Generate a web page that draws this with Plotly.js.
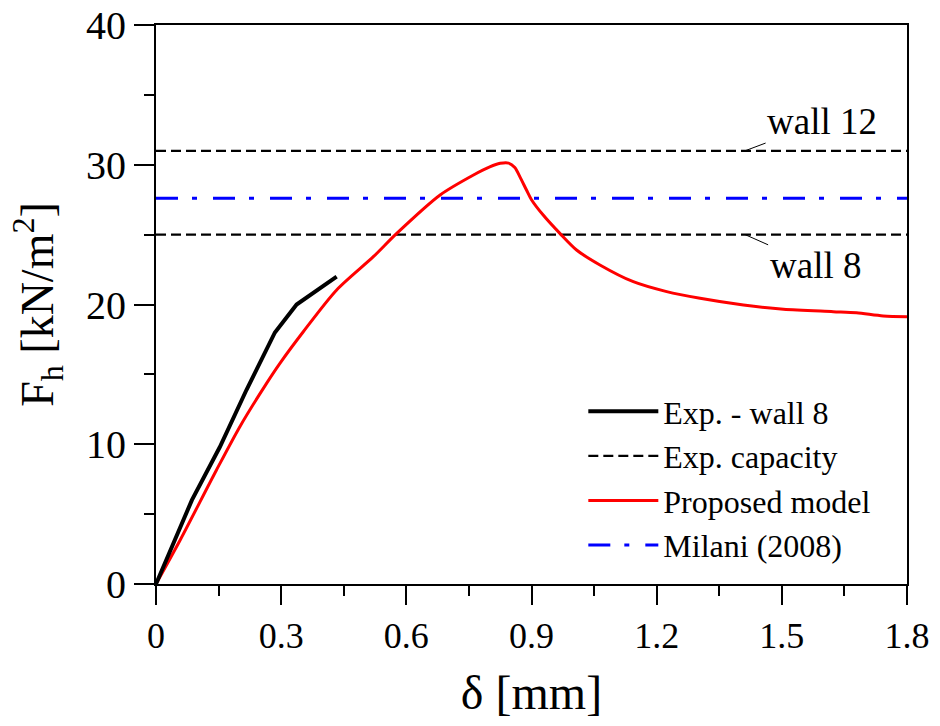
<!DOCTYPE html>
<html>
<head>
<meta charset="utf-8">
<script src="https://cdn.plot.ly/plotly-3.0.1.min.js"></script>
<style>html,body{margin:0;padding:0;background:#fff;}#chart{width:940px;height:726px;}</style>
</head>
<body>
<div id="chart"></div>
<script>
// Experimental curve - wall 8
const expX = [0, 0.041, 0.086, 0.153, 0.217, 0.285, 0.337, 0.433];
const expY = [0, 2.9, 6.0, 9.8, 13.9, 18.0, 20.0, 22.0];

// Proposed model
const modelX = [0, 0.058, 0.145, 0.201, 0.265, 0.297, 0.353, 0.433, 0.521, 0.577, 0.681, 0.761, 0.80, 0.825, 0.845, 0.86, 0.872, 0.888, 0.90, 0.928, 0.968, 1.008, 1.064, 1.144, 1.224, 1.304, 1.408, 1.504, 1.623, 1.679, 1.743, 1.80];
const modelY = [0, 3.15, 8.16, 11.26, 14.36, 15.79, 18.05, 21.04, 23.42, 25.09, 27.84, 29.27, 29.85, 30.1, 30.12, 29.8, 29.15, 28.19, 27.5, 26.40, 25.09, 23.90, 22.83, 21.63, 20.92, 20.44, 19.96, 19.66, 19.49, 19.41, 19.18, 19.13];

// Experimental capacities (wall 12, wall 8)
const capLabels = ["wall 12", "wall 8"];
const capValues = [31, 25];
// Milani (2008)
const milaniValue = 27.6;

const xRange = [0, 1.8];
const xTicks = [0, 0.3, 0.6, 0.9, 1.2, 1.5, 1.8];
const yTicks = [0, 10, 20, 30, 40];

const serif = "Liberation Serif";

const capX = [], capY = [];
capValues.forEach((v, i) => {
  if (i > 0) { capX.push(null); capY.push(null); }
  capX.push(xRange[0], xRange[1]);
  capY.push(v, v);
});

const traces = [
  {x: capX, y: capY, mode: 'lines', name: 'Exp. capacity', legendrank: 2,
   line: {color: 'black', width: 2.2, dash: '10px,5px'}},
  {x: xRange, y: [milaniValue, milaniValue], mode: 'lines', name: 'Milani (2008)', legendrank: 4,
   line: {color: '#0000ff', width: 3, dash: '22px,14px,5px,16px'}},
  {x: modelX, y: modelY, mode: 'lines', name: 'Proposed model', legendrank: 3,
   line: {color: '#ff0000', width: 3, shape: 'spline', smoothing: 0.8}},
  {x: expX, y: expY, mode: 'lines', name: 'Exp. - wall 8', legendrank: 1,
   line: {color: 'black', width: 4}}
];

const annX = 1.412;
const annotations = [
  {x: annX, y: capValues[0], xref: 'x', yref: 'y', text: capLabels[0], showarrow: true,
   arrowhead: 0, arrowwidth: 1, arrowcolor: 'black', ax: 77, ay: -29,
   font: {family: serif, size: 37, color: 'black'}},
  {x: annX, y: capValues[1], xref: 'x', yref: 'y', text: capLabels[1], showarrow: true,
   arrowhead: 0, arrowwidth: 1, arrowcolor: 'black', ax: 70, ay: 31,
   font: {family: serif, size: 37, color: 'black'}}
];

const layout = {
  width: 940, height: 726,
  margin: {l: 156, r: 33, t: 25, b: 142},
  paper_bgcolor: 'white', plot_bgcolor: 'white',
  showlegend: true,
  legend: {x: 0.569, y: 0.358, xanchor: 'left', yanchor: 'top', bgcolor: 'rgba(0,0,0,0)',
    font: {family: serif, size: 32, color: 'black'}, itemwidth: 70, tracegroupgap: 0},
  font: {family: serif, color: 'black'},
  xaxis: {
    range: xRange, tickvals: xTicks, ticktext: xTicks.map(String),
    showgrid: false, zeroline: false, showline: true, linecolor: 'black', linewidth: 2,
    mirror: true, ticks: 'outside', ticklen: 19, tickwidth: 2, tickcolor: 'black',
    tickfont: {family: serif, size: 36, color: 'black'},
    minor: {dtick: 0.15, tick0: 0, ticks: 'outside', ticklen: 10, tickwidth: 2, tickcolor: 'black', showgrid: false},
    title: {text: 'δ [mm]', font: {family: serif, size: 48, color: 'black'}, standoff: 20}
  },
  yaxis: {
    range: [0, 40], tickvals: yTicks, ticktext: yTicks.map(String),
    showgrid: false, zeroline: false, showline: true, linecolor: 'black', linewidth: 2,
    mirror: true, ticks: 'outside', ticklen: 20, tickwidth: 2, tickcolor: 'black',
    tickfont: {family: serif, size: 40, color: 'black'},
    minor: {dtick: 5, tick0: 0, ticks: 'outside', ticklen: 10, tickwidth: 2, tickcolor: 'black', showgrid: false},
    title: {text: 'F<sub>h</sub> [kN/m<sup>2</sup>]', font: {family: serif, size: 46, color: 'black'}, standoff: 18}
  },
  annotations: annotations
};

Plotly.newPlot('chart', traces, layout, {staticPlot: true});
</script>
</body>
</html>
